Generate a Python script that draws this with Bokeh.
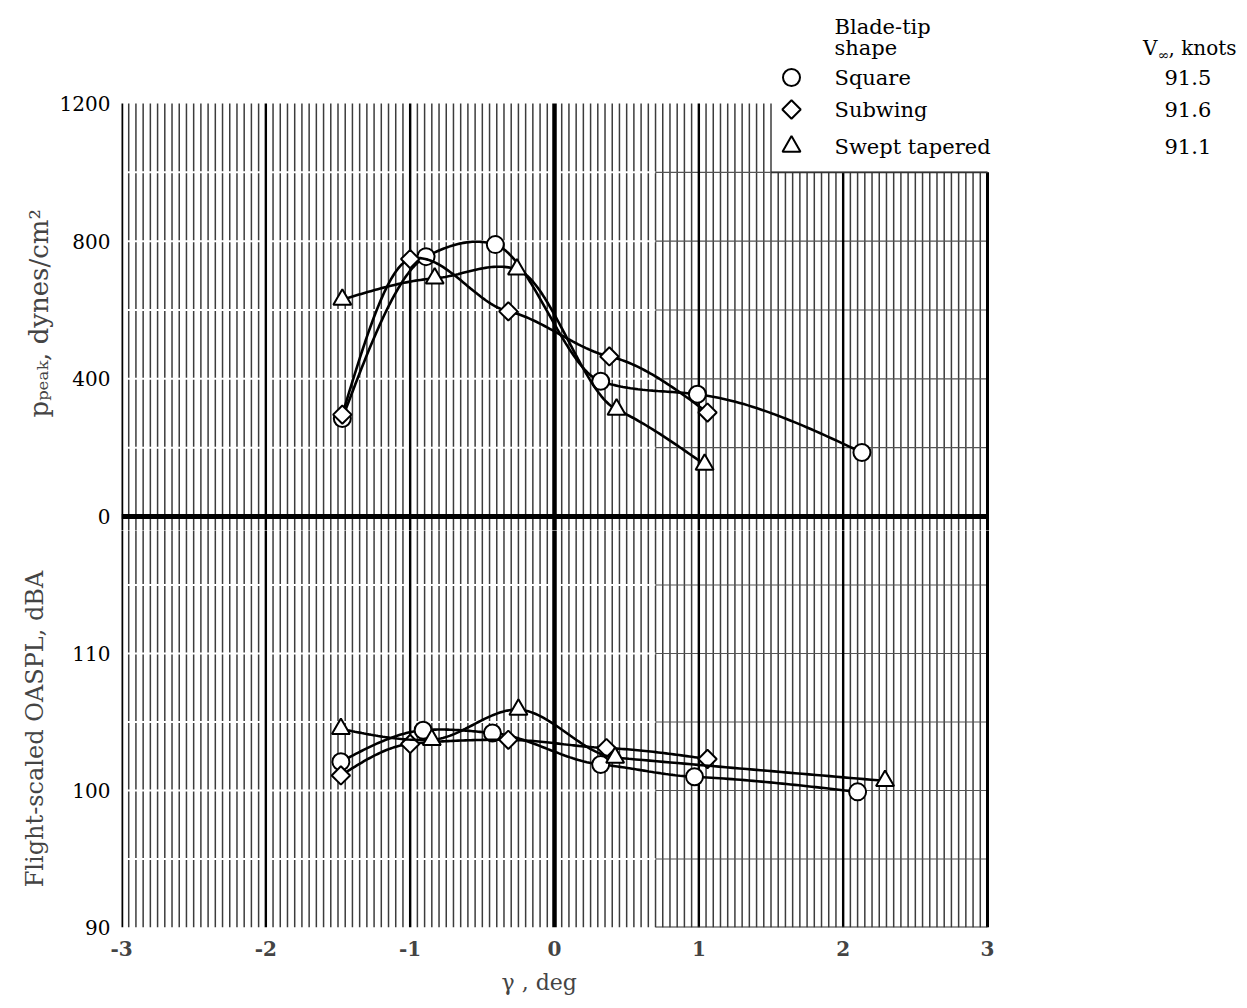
import numpy as np
from bokeh.plotting import figure
from bokeh.layouts import column
from bokeh.models import Range1d, FixedTicker, Label, Title
from bokeh.embed import file_html
from bokeh.resources import INLINE

# ---------------- data ----------------
x_ticks = [-3, -2, -1, 0, 1, 2, 3]
p_ticks = [0, 400, 800, 1200]
oaspl_ticks = [90, 100, 110]

series_names = ["Square", "Subwing", "Swept tapered"]
series_speeds = ["91.5", "91.6", "91.1"]

# top panel: p_peak, dynes/cm^2
sq_gamma_p = [-1.47, -0.89, -0.41, 0.32, 0.99, 2.13]
sq_p = [285, 755, 790, 393, 355, 186]
sw_gamma_p = [-1.47, -1.00, -0.32, 0.38, 1.06]
sw_p = [296, 748, 596, 465, 302]
st_gamma_p = [-1.47, -0.83, -0.26, 0.43, 1.04]
st_p = [630, 692, 718, 311, 151]

# bottom panel: flight-scaled OASPL, dBA
sq_gamma_o = [-1.48, -0.91, -0.43, 0.32, 0.97, 2.10]
sq_o = [102.1, 104.4, 104.2, 101.9, 101.0, 99.9]
sw_gamma_o = [-1.48, -1.00, -0.32, 0.36, 1.06]
sw_o = [101.1, 103.4, 103.7, 103.1, 102.3]
st_gamma_o = [-1.48, -0.85, -0.25, 0.42, 2.29]
st_o = [104.5, 103.7, 105.9, 102.4, 100.7]

# ---------------- layout geometry (page pixels) ----------------
FONT = "DejaVu Serif"
OFF = 1                      # page offset of the canvas
W = 1240
L_B = 121
PX_XM3, PX_X3 = 122, 988     # page x of gamma = -3 and +3
UX = (PX_X3 - PX_XM3) / 6.0  # px per degree
PY_0, PY_1200 = 517, 104     # page y of p = 0 and 1200
UP = (PY_0 - PY_1200) / 1200.0
PY_90, PY_120 = 928, 517     # page y of OASPL 90 and 120
UO = (PY_90 - PY_120) / 30.0
SPLIT = 531                  # page y where the two canvases meet
BOT_B = 78


def px2x(px):
    return -3 + (px - PX_XM3) / UX


def py2p(py):
    return (PY_0 - py) / UP


def fair(xs, ys, n=40, tension=0.45):
    """Faired curve (cubic Hermite in x) through the data points."""
    xs = np.asarray(xs, float)
    ys = np.asarray(ys, float)
    k = len(xs)
    sec = np.diff(ys) / np.diff(xs)
    m = np.zeros(k)
    for i in range(1, k - 1):
        m[i] = tension * (ys[i + 1] - ys[i - 1]) / (xs[i + 1] - xs[i - 1])
    m[0] = 1.5 * sec[0] - 0.5 * m[1]
    m[-1] = 1.5 * sec[-1] - 0.5 * m[-2]
    ox, oy = [], []
    t = np.linspace(0, 1, n)
    h00 = 2 * t**3 - 3 * t**2 + 1
    h10 = t**3 - 2 * t**2 + t
    h01 = -2 * t**3 + 3 * t**2
    h11 = t**3 - t**2
    for i in range(k - 1):
        dx = xs[i + 1] - xs[i]
        ox.extend(xs[i] + t * dx)
        oy.extend(h00 * ys[i] + h10 * dx * m[i] + h01 * ys[i + 1] + h11 * dx * m[i + 1])
    return ox, oy


def make_fig(height, xr, yr, top_b, bot_b):
    p = figure(width=W, height=height, x_range=xr, y_range=yr,
               output_backend="svg", toolbar_location=None,
               min_border_left=L_B, min_border_right=0,
               min_border_top=top_b, min_border_bottom=bot_b)
    p.outline_line_color = None
    p.xgrid.visible = False
    p.ygrid.visible = False
    p.background_fill_color = "white"
    p.border_fill_color = "white"
    return p


def style_yaxis(p, ticks):
    ax = p.yaxis[0]
    ax.ticker = FixedTicker(ticks=ticks)
    ax.axis_line_color = None
    ax.major_tick_line_color = None
    ax.minor_tick_line_color = None
    ax.major_tick_out = 0
    ax.major_tick_in = 0
    ax.minor_tick_out = 0
    ax.major_label_text_font = FONT
    ax.major_label_text_font_size = "20px"
    ax.major_label_text_color = "black"
    ax.major_label_standoff = 11


def draw_grid(p, y0, y1, hlines, box_x=None, box_y=None):
    def top_of(v):
        return box_y if (box_x is not None and v > box_x) else y1
    minor = [round(v, 3) for v in np.arange(-3, 3.0001, 0.05) if abs(v - round(v)) > 1e-6]
    p.segment(x0=minor, y0=[y0] * len(minor), x1=minor, y1=[top_of(v) for v in minor],
              line_color="#3c3c3c", line_width=1.5)
    # horizontal grid lines: washed-out on the left, grey on the right
    p.segment(x0=[-3] * len(hlines), y0=hlines, x1=[0.7] * len(hlines), y1=hlines,
              line_color="white", line_width=2)
    p.segment(x0=[0.7] * len(hlines), y0=hlines, x1=[3] * len(hlines), y1=hlines,
              line_color="#555555", line_width=1.2)
    ints = [-2, -1, 1, 2]
    p.segment(x0=ints, y0=[y0] * 4, x1=ints, y1=[top_of(v) for v in ints],
              line_color="black", line_width=2.4)
    p.segment(x0=[-3], y0=[y0], x1=[-3], y1=[y1], line_color="black", line_width=3.5)
    p.segment(x0=[3], y0=[y0], x1=[3], y1=[top_of(3)], line_color="black", line_width=3)
    p.segment(x0=[0], y0=[y0], x1=[0], y1=[y1], line_color="black", line_width=4.5)


def draw_series(p, gx, gy, marker, size, angle=0.0):
    fx, fy = fair(gx, gy)
    p.line(fx, fy, line_color="black", line_width=2.6)
    p.scatter(gx, gy, marker=marker, size=size, angle=angle,
              fill_color="white", line_color="black", line_width=2)


MARKERS = [("circle", 17, 0.0), ("square", 13, np.pi / 4), ("triangle", 18, 0.0)]
x_end = px2x(OFF + W)   # frames run to the right edge so the key fits inside

# ---------------- top panel (frame also holds the key) ----------------
top_h = SPLIT - OFF
top = make_fig(top_h, Range1d(-3, x_end), Range1d(py2p(SPLIT), py2p(OFF)), 0, 0)
top.xaxis.visible = False
style_yaxis(top, p_ticks)
draw_grid(top, py2p(SPLIT), 1200, [200, 400, 600, 800, 1000], box_x=1.5, box_y=1000)
top.segment(x0=[1.5], y0=[1000], x1=[3], y1=[1000], line_color="#333333", line_width=1.6)
top.segment(x0=[-3], y0=[0], x1=[3], y1=[0], line_color="black", line_width=5)

draw_series(top, sq_gamma_p, sq_p, *MARKERS[0])
draw_series(top, sw_gamma_p, sw_p, *MARKERS[1])
draw_series(top, st_gamma_p, st_p, *MARKERS[2])

ytitle = Title(text="p\u209a\u2091\u2090\u2096, dynes/cm\u00b2", align="left",
               offset=SPLIT - 418, text_font=FONT, text_font_size="26px",
               text_font_style="normal", standoff=6)
top.add_layout(ytitle, "left")


def lab(p, px, py, text, size="21px", align="left", baseline="middle", font=FONT):
    p.add_layout(Label(x=px2x(px), y=py2p(py), text=text, text_font=font,
                       text_font_size=size, text_align=align,
                       text_baseline=baseline, text_color="black"))


# key
lab(top, 835, 27, "Blade-tip")
lab(top, 835, 48, "shape")
lab(top, 1237, 48, ", knots", size="20px", align="right")
lab(top, 1170, 55, "\u221e", size="14px", align="right")
lab(top, 1158, 48, "V", size="20px", align="right")
row_y = [78, 110, 147]
for (mk, sz, ang), name, spd, yy in zip(MARKERS, series_names, series_speeds, row_y):
    top.scatter([px2x(792)], [py2p(yy)], marker=mk, size=sz, angle=ang,
                fill_color="white", line_color="black", line_width=2)
    lab(top, 835, yy, name)
    lab(top, 1165, yy, spd)

# ---------------- bottom panel ----------------
bot_h = (PY_90 - SPLIT) + BOT_B
bot = make_fig(bot_h, Range1d(-3, x_end), Range1d(90, 120 - (SPLIT - PY_120) / UO),
               0, BOT_B)
style_yaxis(bot, oaspl_ticks)
ya = bot.yaxis[0]
ya.axis_label = "Flight-scaled OASPL, dBA"
ya.axis_label_text_font = FONT
ya.axis_label_text_font_size = "24px"
ya.axis_label_text_font_style = "normal"
ya.axis_label_standoff = 20

xa = bot.xaxis[0]
xa.ticker = FixedTicker(ticks=x_ticks)
xa.major_label_overrides = {-3: "-3", -2: "-2", -1: "-1"}
xa.axis_line_color = None
xa.major_tick_line_color = None
xa.minor_tick_line_color = None
xa.major_tick_out = 0
xa.major_tick_in = 0
xa.minor_tick_out = 0
xa.major_label_text_font = FONT
xa.major_label_text_font_size = "20px"
xa.major_label_text_font_style = "bold"
xa.major_label_standoff = 13

xtitle = Title(text="\u03b3 , deg", align="left", offset=502 - PX_XM3,
               text_font=FONT, text_font_size="22px", text_font_style="normal",
               standoff=18)
bot.add_layout(xtitle, "below")

draw_grid(bot, 90, 120, [95, 100, 105, 110, 115])
bot.segment(x0=[0.7], y0=[90], x1=[3], y1=[90], line_color="#333333", line_width=2)

draw_series(bot, sq_gamma_o, sq_o, *MARKERS[0])
draw_series(bot, sw_gamma_o, sw_o, *MARKERS[1])
draw_series(bot, st_gamma_o, st_o, *MARKERS[2])

layout = column(top, bot, spacing=0)
open("out.html", "w").write(file_html(layout, INLINE))
